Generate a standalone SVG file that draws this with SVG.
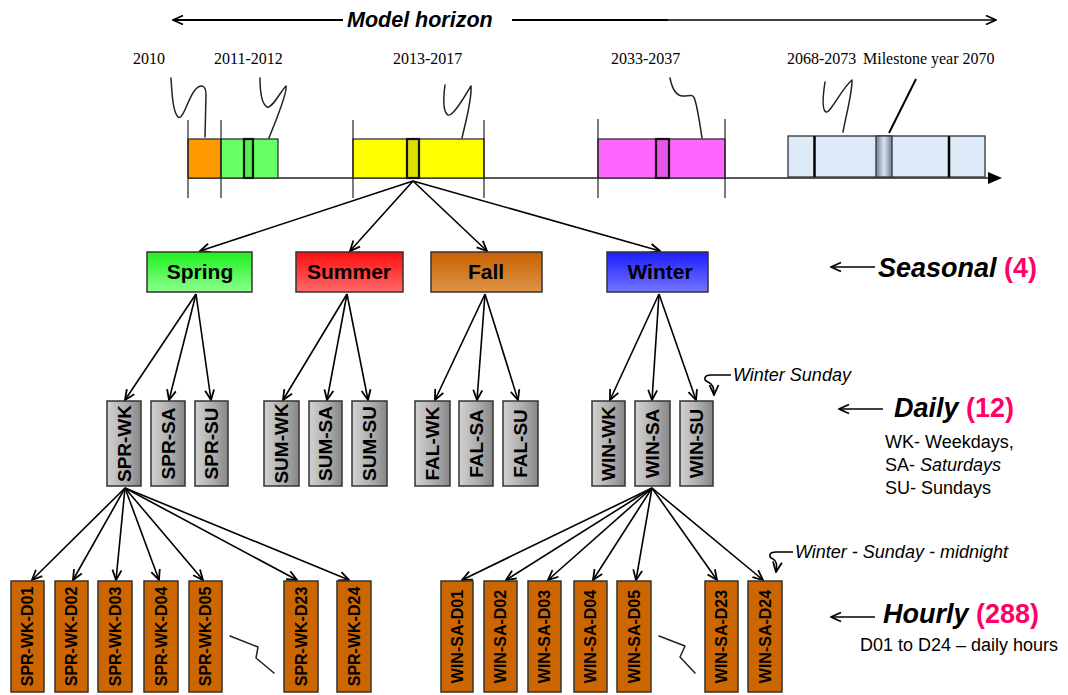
<svg xmlns="http://www.w3.org/2000/svg" width="1068" height="695" viewBox="0 0 1068 695">
<defs>
<marker id="arr" viewBox="0 0 12 12" refX="11" refY="6" markerWidth="12" markerHeight="12" markerUnits="userSpaceOnUse" orient="auto"><path d="M1,1.5 L11,6 L1,10.5" fill="none" stroke="#000" stroke-width="1.8"/></marker>
<linearGradient id="gSpring" x1="0" y1="0" x2="0" y2="1"><stop offset="0" stop-color="#1EF01E"/><stop offset="1" stop-color="#8CFF8C"/></linearGradient>
<linearGradient id="gSummer" x1="0" y1="0" x2="0" y2="1"><stop offset="0" stop-color="#FF0C0C"/><stop offset="1" stop-color="#FF6A6A"/></linearGradient>
<linearGradient id="gFall" x1="0" y1="0" x2="0" y2="1"><stop offset="0" stop-color="#C86000"/><stop offset="1" stop-color="#DC9448"/></linearGradient>
<linearGradient id="gWinter" x1="0" y1="0" x2="0" y2="1"><stop offset="0" stop-color="#1C1CFF"/><stop offset="1" stop-color="#7474FF"/></linearGradient>
<linearGradient id="gGray" x1="0" y1="0" x2="1" y2="0"><stop offset="0" stop-color="#D2D2D2"/><stop offset="0.6" stop-color="#AAAAAA"/><stop offset="1" stop-color="#868686"/></linearGradient>
<linearGradient id="gBand" x1="0" y1="0" x2="1" y2="0"><stop offset="0" stop-color="#6E7F90"/><stop offset="0.5" stop-color="#D6E4F2"/><stop offset="1" stop-color="#6E7F90"/></linearGradient>
</defs>
<style>
.sans{font-family:"Liberation Sans",Arial,sans-serif}
.serif{font-family:"Liberation Serif","Times New Roman",serif;font-size:16px;fill:#000}
.conn{stroke:#000;stroke-width:1.6;fill:none;marker-end:url(#arr)}
.sq{stroke:#222;stroke-width:1.5;fill:none;stroke-linecap:round;stroke-linejoin:round}
.tick{stroke:#222;stroke-width:1.2}
.tl rect{stroke:#333;stroke-width:1.3}
.tl rect.band{stroke:#111;stroke-width:2.2}
.season rect{stroke:#333;stroke-width:1.5}
.season text{font-family:"Liberation Sans",Arial,sans-serif;font-weight:bold;font-size:21px;text-anchor:middle;fill:#000}
.day rect{fill:url(#gGray);stroke:#333;stroke-width:1.5}
.day text{font-family:"Liberation Sans",Arial,sans-serif;font-weight:bold;font-size:19px;text-anchor:middle;fill:#000}
.hour rect{fill:#CC6600;stroke:#333;stroke-width:1.5}
.hour text{font-family:"Liberation Sans",Arial,sans-serif;font-weight:bold;font-size:16px;text-anchor:middle;fill:#000}
.big{font-family:"Liberation Sans",Arial,sans-serif;font-weight:bold;font-size:27px;fill:#000}
.cnt{fill:#FF0066;font-style:normal}
.note{font-family:"Liberation Sans",Arial,sans-serif;font-size:18px;fill:#000}
</style>

<!-- Model horizon -->
<g id="model-horizon">
<line class="conn" x1="343" y1="20" x2="173" y2="20" style="stroke-width:2"/>
<line x1="512" y1="20" x2="668" y2="20" stroke="#000" stroke-width="2.2"/>
<line class="conn" x1="668" y1="20" x2="996" y2="20" style="stroke-width:1.6"/>
<text x="347" y="27" class="sans" font-weight="bold" font-style="italic" font-size="21.5">Model horizon</text>
</g>

<!-- Timeline -->
<g id="timeline">
<line x1="188" y1="178" x2="990" y2="178" stroke="#222" stroke-width="1.5"/>
<path d="M988,172 L1002,178 L988,184 Z" fill="#000"/>
<g class="tl">
<rect x="188" y="139" width="33" height="39" fill="#FF9900"/>
<rect x="221" y="139" width="57" height="39" fill="#66FF66"/>
<rect class="band" x="244" y="139" width="9" height="39" fill="#55EE55"/>
<rect x="353" y="139" width="131" height="39" fill="#FFFF00"/>
<rect class="band" x="407" y="139" width="12" height="39" fill="#E0E000"/>
<rect x="598" y="139" width="127" height="39" fill="#FF66FF"/>
<rect class="band" x="656" y="139" width="13" height="39" fill="#E855E8"/>
<rect x="788" y="136" width="197" height="41" fill="#DDEBF8"/>
<rect x="876" y="136" width="16" height="41" fill="url(#gBand)"/>
</g>
<line x1="814.5" y1="136" x2="814.5" y2="177" stroke="#000" stroke-width="2.5"/>
<line x1="949" y1="136" x2="949" y2="177" stroke="#000" stroke-width="2.5"/>
<line class="tick" x1="188" y1="120" x2="188" y2="198"/>
<line class="tick" x1="221" y1="120" x2="221" y2="198"/>
<line class="tick" x1="353" y1="120" x2="353" y2="198"/>
<line class="tick" x1="484" y1="120" x2="484" y2="198"/>
<line class="tick" x1="598" y1="119" x2="598" y2="198"/>
<line class="tick" x1="725" y1="119" x2="725" y2="198"/>
<text class="serif" x="133" y="64">2010</text>
<text class="serif" x="214" y="64">2011-2012</text>
<text class="serif" x="393" y="64">2013-2017</text>
<text class="serif" x="611" y="64">2033-2037</text>
<text class="serif" x="787" y="64">2068-2073</text>
<text class="serif" x="863" y="64">Milestone year 2070</text>
<path class="sq" d="M171,78 C172,95 173,112 178,117 C183,121 188,98 195,90 C200,84 206,84 206,95 L205,137"/>
<path class="sq" d="M260,78 C260,92 262,104 267,107 C272,109 280,92 286,86 C288,92 276,120 269,138"/>
<path class="sq" d="M445,85 C443,100 443,112 448,115 C453,117 465,96 471,86 C472,100 466,120 462,138"/>
<path class="sq" d="M670,78 C672,88 675,95 682,96 C688,97 693,92 695,100 C698,110 700,125 702,138"/>
<path class="sq" d="M825,82 C823,95 822,110 826,112 C830,114 842,88 852,80 C852,95 846,115 843,132"/>
<line x1="916" y1="79" x2="889" y2="133" stroke="#000" stroke-width="2"/>
</g>

<!-- Connectors -->
<g id="connectors">
<line class="conn" x1="413" y1="181" x2="200" y2="251"/>
<line class="conn" x1="413" y1="181" x2="350" y2="251"/>
<line class="conn" x1="413" y1="181" x2="487" y2="251"/>
<line class="conn" x1="413" y1="181" x2="660" y2="251"/>

<line class="conn" x1="196" y1="294" x2="125" y2="400"/>
<line class="conn" x1="196" y1="294" x2="169" y2="400"/>
<line class="conn" x1="196" y1="294" x2="211" y2="400"/>
<line class="conn" x1="347" y1="294" x2="283" y2="400"/>
<line class="conn" x1="347" y1="294" x2="327" y2="400"/>
<line class="conn" x1="347" y1="294" x2="368" y2="400"/>
<line class="conn" x1="485" y1="294" x2="435" y2="400"/>
<line class="conn" x1="485" y1="294" x2="477" y2="400"/>
<line class="conn" x1="485" y1="294" x2="518" y2="400"/>
<line class="conn" x1="659" y1="294" x2="610" y2="400"/>
<line class="conn" x1="659" y1="294" x2="652" y2="400"/>
<line class="conn" x1="659" y1="294" x2="696" y2="400"/>

<line class="conn" x1="125" y1="488" x2="32" y2="580"/>
<line class="conn" x1="125" y1="488" x2="73" y2="580"/>
<line class="conn" x1="125" y1="488" x2="116" y2="580"/>
<line class="conn" x1="125" y1="488" x2="159" y2="580"/>
<line class="conn" x1="125" y1="488" x2="203" y2="580"/>
<line class="conn" x1="125" y1="488" x2="297" y2="580"/>
<line class="conn" x1="125" y1="488" x2="349" y2="580"/>

<line class="conn" x1="652" y1="488" x2="462" y2="580"/>
<line class="conn" x1="652" y1="488" x2="506" y2="580"/>
<line class="conn" x1="652" y1="488" x2="548" y2="580"/>
<line class="conn" x1="652" y1="488" x2="593" y2="580"/>
<line class="conn" x1="652" y1="488" x2="636" y2="580"/>
<line class="conn" x1="652" y1="488" x2="717" y2="580"/>
<line class="conn" x1="652" y1="488" x2="763" y2="580"/>

<line class="conn" x1="875" y1="267" x2="831" y2="267"/>
<line class="conn" x1="883" y1="409" x2="839" y2="409"/>
<line class="conn" x1="875" y1="617" x2="831" y2="617"/>

<path class="conn" d="M731,375 L711,375 C704,375 703,380 708,382 C713,384 714,388 714,395"/>
<path class="conn" d="M793,552 L776,552 C769,552 768,557 773,559 C777,561 777,565 776,572"/>
</g>

<!-- Seasonal nodes -->
<g id="spring" class="season"><rect x="147" y="252" width="105" height="40" fill="url(#gSpring)"/><text x="200" y="279">Spring</text></g>
<g id="summer" class="season"><rect x="296" y="252" width="107" height="40" fill="url(#gSummer)"/><text x="349" y="279">Summer</text></g>
<g id="fall" class="season"><rect x="431" y="252" width="111" height="40" fill="url(#gFall)"/><text x="486" y="279">Fall</text></g>
<g id="winter" class="season"><rect x="607" y="252" width="101" height="40" fill="url(#gWinter)"/><text x="660" y="279">Winter</text></g>

<!-- Daily nodes -->
<g id="spr-wk" class="day"><rect x="107" y="401" width="34" height="85"/><text transform="translate(124,443.5) rotate(-90)" dy="0.36em">SPR-WK</text></g>
<g id="spr-sa" class="day"><rect x="151" y="401" width="34" height="85"/><text transform="translate(168,443.5) rotate(-90)" dy="0.36em">SPR-SA</text></g>
<g id="spr-su" class="day"><rect x="195" y="401" width="33" height="85"/><text transform="translate(211.5,443.5) rotate(-90)" dy="0.36em">SPR-SU</text></g>
<g id="sum-wk" class="day"><rect x="264" y="401" width="35" height="85"/><text transform="translate(281.5,443.5) rotate(-90)" dy="0.36em">SUM-WK</text></g>
<g id="sum-sa" class="day"><rect x="309" y="401" width="33" height="85"/><text transform="translate(325.5,443.5) rotate(-90)" dy="0.36em">SUM-SA</text></g>
<g id="sum-su" class="day"><rect x="352" y="401" width="35" height="85"/><text transform="translate(369.5,443.5) rotate(-90)" dy="0.36em">SUM-SU</text></g>
<g id="fal-wk" class="day"><rect x="415" y="401" width="35" height="85"/><text transform="translate(432.5,443.5) rotate(-90)" dy="0.36em">FAL-WK</text></g>
<g id="fal-sa" class="day"><rect x="459" y="401" width="34" height="85"/><text transform="translate(476,443.5) rotate(-90)" dy="0.36em">FAL-SA</text></g>
<g id="fal-su" class="day"><rect x="503" y="401" width="35" height="85"/><text transform="translate(520.5,443.5) rotate(-90)" dy="0.36em">FAL-SU</text></g>
<g id="win-wk" class="day"><rect x="592" y="401" width="33" height="85"/><text transform="translate(608.5,443.5) rotate(-90)" dy="0.36em">WIN-WK</text></g>
<g id="win-sa" class="day"><rect x="635" y="401" width="35" height="85"/><text transform="translate(652.5,443.5) rotate(-90)" dy="0.36em">WIN-SA</text></g>
<g id="win-su" class="day"><rect x="680" y="401" width="33" height="85"/><text transform="translate(696.5,443.5) rotate(-90)" dy="0.36em">WIN-SU</text></g>

<!-- Hourly nodes -->
<g id="spr-wk-d01" class="hour"><rect x="11" y="581" width="33" height="111"/><text transform="translate(27.5,636.5) rotate(-90)" dy="0.36em">SPR-WK-D01</text></g>
<g id="spr-wk-d02" class="hour"><rect x="55" y="581" width="33" height="111"/><text transform="translate(71.5,636.5) rotate(-90)" dy="0.36em">SPR-WK-D02</text></g>
<g id="spr-wk-d03" class="hour"><rect x="98" y="581" width="34" height="111"/><text transform="translate(115,636.5) rotate(-90)" dy="0.36em">SPR-WK-D03</text></g>
<g id="spr-wk-d04" class="hour"><rect x="144" y="581" width="34" height="111"/><text transform="translate(161,636.5) rotate(-90)" dy="0.36em">SPR-WK-D04</text></g>
<g id="spr-wk-d05" class="hour"><rect x="189" y="581" width="33" height="111"/><text transform="translate(205.5,636.5) rotate(-90)" dy="0.36em">SPR-WK-D05</text></g>
<g id="spr-wk-d23" class="hour"><rect x="284" y="581" width="34" height="111"/><text transform="translate(301,636.5) rotate(-90)" dy="0.36em">SPR-WK-D23</text></g>
<g id="spr-wk-d24" class="hour"><rect x="337" y="581" width="34" height="111"/><text transform="translate(354,636.5) rotate(-90)" dy="0.36em">SPR-WK-D24</text></g>
<g id="win-sa-d01" class="hour"><rect x="441" y="581" width="32" height="111"/><text transform="translate(457,636.5) rotate(-90)" dy="0.36em">WIN-SA-D01</text></g>
<g id="win-sa-d02" class="hour"><rect x="484" y="581" width="33" height="111"/><text transform="translate(500.5,636.5) rotate(-90)" dy="0.36em">WIN-SA-D02</text></g>
<g id="win-sa-d03" class="hour"><rect x="528" y="581" width="33" height="111"/><text transform="translate(544.5,636.5) rotate(-90)" dy="0.36em">WIN-SA-D03</text></g>
<g id="win-sa-d04" class="hour"><rect x="574" y="581" width="33" height="111"/><text transform="translate(590.5,636.5) rotate(-90)" dy="0.36em">WIN-SA-D04</text></g>
<g id="win-sa-d05" class="hour"><rect x="617" y="581" width="34" height="111"/><text transform="translate(634,636.5) rotate(-90)" dy="0.36em">WIN-SA-D05</text></g>
<g id="win-sa-d23" class="hour"><rect x="705" y="581" width="33" height="111"/><text transform="translate(721.5,636.5) rotate(-90)" dy="0.36em">WIN-SA-D23</text></g>
<g id="win-sa-d24" class="hour"><rect x="748" y="581" width="34" height="111"/><text transform="translate(765,636.5) rotate(-90)" dy="0.36em">WIN-SA-D24</text></g>

<!-- gap squiggles -->
<path class="sq" d="M230,636 L258,647 L256,658 L274,673"/>
<path class="sq" d="M659,636 L685,646 L680,657 L695,673"/>

<!-- Labels -->
<text class="sans" x="733" y="381" font-size="18" font-style="italic">Winter Sunday</text>
<text class="sans" x="795" y="558" font-size="18" font-style="italic">Winter - Sunday - midnight</text>
<text class="big" x="878" y="277"><tspan font-style="italic">Seasonal</tspan> <tspan class="cnt">(4)</tspan></text>
<text class="big" x="894" y="417"><tspan font-style="italic">Daily</tspan> <tspan class="cnt">(12)</tspan></text>
<text class="note" x="885" y="448">WK- Weekdays,</text>
<text class="note" x="885" y="471">SA- <tspan font-style="italic">Saturdays</tspan></text>
<text class="note" x="885" y="494">SU- Sundays</text>
<text class="big" x="883" y="623"><tspan font-style="italic">Hourly</tspan> <tspan class="cnt">(288)</tspan></text>
<text class="note" x="860" y="651">D01 to D24 – daily hours</text>
</svg>
